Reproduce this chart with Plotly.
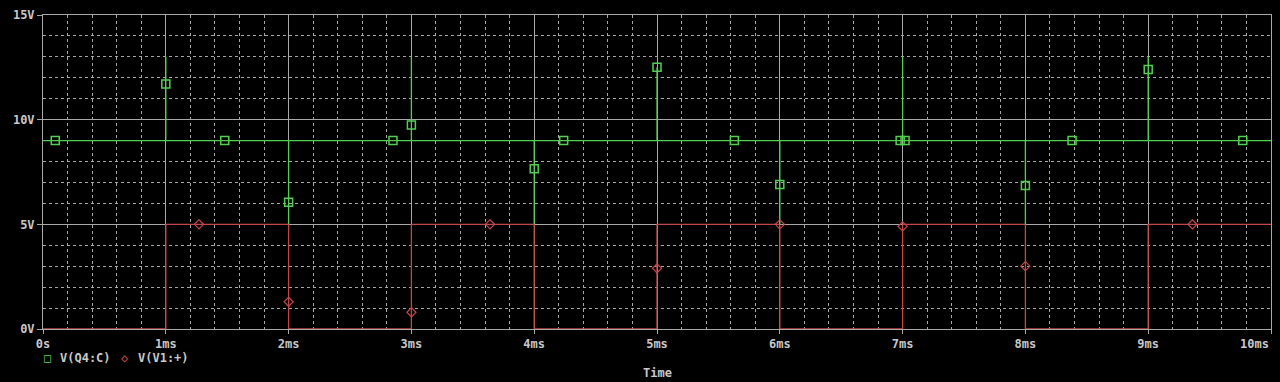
import plotly.graph_objects as go

# ---- data (time in ms, volts) ----
q4_t = [0, 1, 1, 1, 2, 2, 2, 3, 3, 3, 4, 4, 4, 5, 5, 5, 6, 6, 6, 7, 7, 7, 8, 8, 8, 9, 9, 9, 10]
q4_v = [9, 9, 13, 9, 9, 5, 9, 9, 13, 9, 9, 5, 9, 9, 12.5, 9, 9, 5, 9, 9, 13, 9, 9, 5, 9, 9, 13, 9, 9]
q4_mark_t = [0.1, 1.0, 1.48, 2.0, 2.85, 3.0, 4.0, 4.24, 5.0, 5.63, 6.0, 6.98, 7.02, 8.0, 8.38, 9.0, 9.77]
q4_mark_v = [9, 11.7, 9, 6.05, 9, 9.75, 7.65, 9, 12.5, 9, 6.9, 9, 9, 6.85, 9, 12.4, 9]

v1_t = [0, 1, 1, 2, 2, 3, 3, 4, 4, 5, 5, 6, 6, 7, 7, 8, 8, 9, 9, 10]
v1_v = [0, 0, 5, 5, 0, 0, 5, 5, 0, 0, 5, 5, 0, 0, 5, 5, 0, 0, 5, 5]
v1_mark_t = [1.27, 2.0, 3.0, 3.64, 5.0, 6.0, 7.0, 8.0, 9.36]
v1_mark_v = [5, 1.3, 0.8, 5, 2.9, 5, 4.9, 3.0, 5]

x_tickvals = [0, 1, 2, 3, 4, 5, 6, 7, 8, 9, 10]
x_ticktext = ["0s", "1ms", "2ms", "3ms", "4ms", "5ms", "6ms", "7ms", "8ms", "9ms", "10ms"]
y_tickvals = [0, 5, 10, 15]
y_ticktext = ["0V", "5V", "10V", "15V"]

GREEN = "#52cf52"
RED = "#c24848"
GRID = "#a8a8a8"
TXT = "#c8c8c8"
FONT = "DejaVu Sans Mono"
FS = 12

fig = go.Figure()
fig.add_trace(go.Scatter(x=v1_t, y=v1_v, mode="lines", line=dict(color=RED, width=1.3),
                         showlegend=False, hoverinfo="skip"))
fig.add_trace(go.Scatter(x=q4_t, y=q4_v, mode="lines", line=dict(color=GREEN, width=1.3),
                         showlegend=False, hoverinfo="skip"))
fig.add_trace(go.Scatter(x=q4_mark_t, y=q4_mark_v, mode="markers", name="V(Q4:C)",
                         marker=dict(symbol="square-open", size=8, color=GREEN, line=dict(width=1.5, color=GREEN)),
                         showlegend=False))
fig.add_trace(go.Scatter(x=v1_mark_t, y=v1_mark_v, mode="markers", name="V(V1:+)",
                         marker=dict(symbol="diamond-open", size=7, color=RED, line=dict(width=1.2, color=RED)),
                         showlegend=False))

L, R, T, B = 43, 8, 11, 53
W, H = 1280, 382
pw = W - L - R
ph = H - T - B

def px_x(p):
    return (p - L) / pw

def px_y(p):
    return (H - B - p) / ph

# the last label sits flush against the right edge, so draw it right-aligned
shown_ticktext = x_ticktext[:-1] + [""]

tickfont = dict(family=FONT, size=FS, color=TXT, weight="bold")

fig.update_layout(
    width=W, height=H,
    margin=dict(l=L, r=R, t=T, b=B),
    paper_bgcolor="black", plot_bgcolor="black",
    font=dict(family=FONT, size=FS, color=TXT),
    showlegend=False,
    xaxis=dict(range=[0, 10], tickvals=x_tickvals, ticktext=shown_ticktext,
               showgrid=True, gridcolor=GRID, gridwidth=1,
               minor=dict(dtick=0.2, showgrid=True, gridcolor=GRID, griddash="3px,3px", gridwidth=1),
               showline=True, linecolor=GRID, linewidth=1, mirror=True,
               ticks="outside", ticklen=4, tickcolor=GRID,
               zeroline=False, layer="below traces",
               tickfont=tickfont),
    yaxis=dict(range=[0, 15], tickvals=y_tickvals, ticktext=y_ticktext,
               showgrid=True, gridcolor=GRID, gridwidth=1,
               minor=dict(dtick=1, showgrid=True, gridcolor=GRID, griddash="3px,3px", gridwidth=1),
               showline=True, linecolor=GRID, linewidth=1, mirror=True,
               ticks="outside", ticklen=5, tickcolor=GRID,
               zeroline=False, layer="below traces",
               tickfont=tickfont),
)

ann = [
    dict(text=x_ticktext[-1], x=px_x(1272), y=px_y(344), color=TXT, xanchor="right"),
    dict(text="□", x=px_x(48), y=px_y(358), color=GREEN, xanchor="center"),
    dict(text="V(Q4:C)", x=px_x(58), y=px_y(358), color=TXT, xanchor="left"),
    dict(text="◇", x=px_x(125), y=px_y(358), color=RED, xanchor="center"),
    dict(text="V(V1:+)", x=px_x(136), y=px_y(358), color=TXT, xanchor="left"),
    dict(text="Time", x=px_x(658), y=px_y(374), color=TXT, xanchor="center"),
]
for a in ann:
    fig.add_annotation(text=a["text"], x=a["x"], y=a["y"], xref="paper", yref="paper",
                       xanchor=a["xanchor"], yanchor="middle", showarrow=False,
                       font=dict(family=FONT, size=FS, color=a["color"], weight="bold"))

fig.write_html("out.html")
